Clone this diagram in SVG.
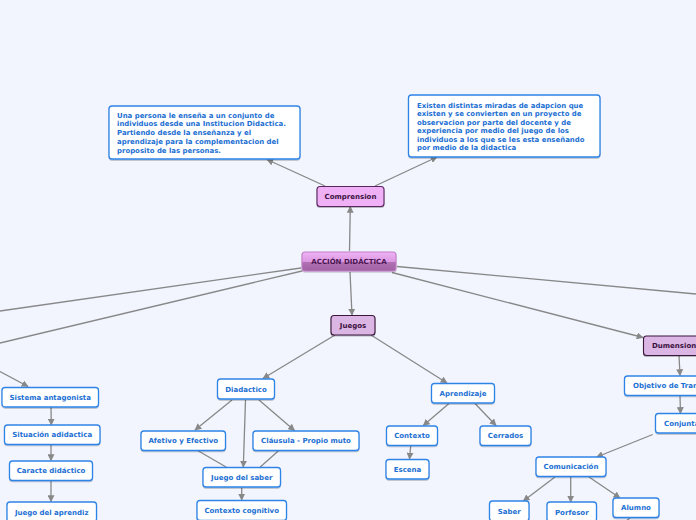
<svg xmlns="http://www.w3.org/2000/svg" width="696" height="520" viewBox="0 0 696 520">
<defs>
<marker id="ah" viewBox="0 0 10 10" refX="9" refY="5" markerWidth="7" markerHeight="7" markerUnits="userSpaceOnUse" orient="auto">
<path d="M0,0 L10,5 L0,10 z" fill="#888"/>
</marker>
<linearGradient id="gc" x1="0" y1="0" x2="0" y2="1">
<stop offset="0" stop-color="#efb4f4"/>
<stop offset="0.5" stop-color="#dc98e2"/>
<stop offset="0.55" stop-color="#b070b2"/>
<stop offset="1" stop-color="#a062a3"/>
</linearGradient>
<filter id="sh" x="-10%" y="-10%" width="120%" height="140%">
<feDropShadow dx="0" dy="1" stdDeviation="0.6" flood-color="#000" flood-opacity="0.25"/>
</filter>
</defs>
<style>
.n rect{fill:#fff;stroke:#2f84e6;stroke-width:1.3;filter:url(#sh)}
.n text{font-family:"DejaVu Sans",Verdana,sans-serif;font-weight:bold;font-size:7px;fill:#1b6fd3;text-anchor:middle}
.t text{text-anchor:start;font-size:6.95px}
.p rect{fill:#dbb5e3;stroke:#3a173d;stroke-width:1.1;filter:url(#sh)}
.p text{font-family:"DejaVu Sans",Verdana,sans-serif;font-weight:bold;font-size:7px;fill:#3a1040;text-anchor:middle}
#comprension rect{fill:#efb0f5;stroke:#5a2660}
#accion rect{fill:url(#gc);stroke:#c27fc8}
#accion text{fill:#4a1650}
.c line{stroke:#888;stroke-width:1.3;fill:none}
.c .a{marker-end:url(#ah)}
</style>
<rect width="696" height="520" fill="#f2f5fe"/>
<g class="c">
<line class="a" x1="325" y1="186" x2="267" y2="159.5"/>
<line class="a" x1="375" y1="186" x2="437" y2="157"/>
<line class="a" x1="349.5" y1="251" x2="350.3" y2="206.5"/>
<line x1="301" y1="268" x2="0" y2="311"/>
<line x1="302" y1="271" x2="0" y2="343"/>
<line x1="397" y1="266.5" x2="696" y2="294"/>
<line class="a" x1="392" y1="272.5" x2="643" y2="337.5"/>
<line class="a" x1="350" y1="272" x2="352" y2="315"/>
<line class="a" x1="335" y1="335" x2="263" y2="378.5"/>
<line class="a" x1="371" y1="335" x2="447" y2="383"/>
<line class="a" x1="0" y1="371.5" x2="28" y2="386.5"/>
<line class="a" x1="51" y1="407" x2="51.3" y2="425"/>
<line class="a" x1="51" y1="444.5" x2="51" y2="460.5"/>
<line class="a" x1="51" y1="480.5" x2="51" y2="501.5"/>
<line class="a" x1="232" y1="400" x2="195" y2="430"/>
<line class="a" x1="245.5" y1="400" x2="243.3" y2="467"/>
<line class="a" x1="259" y1="400" x2="294.5" y2="430.5"/>
<line x1="198" y1="450.7" x2="226.5" y2="467.3"/>
<line x1="278.5" y1="450.7" x2="260" y2="467.3"/>
<line class="a" x1="241.7" y1="487.5" x2="241.7" y2="500"/>
<line class="a" x1="449" y1="403.5" x2="423.3" y2="425.5"/>
<line class="a" x1="475" y1="403.5" x2="496" y2="425.5"/>
<line class="a" x1="410.7" y1="446" x2="409.5" y2="459"/>
<line class="a" x1="679" y1="355.5" x2="680" y2="375.5"/>
<line class="a" x1="680" y1="396" x2="680.5" y2="413.5"/>
<line class="a" x1="652.7" y1="434.5" x2="596.7" y2="457"/>
<line class="a" x1="555" y1="477" x2="523.3" y2="501"/>
<line class="a" x1="570.7" y1="477" x2="570.7" y2="502"/>
<line class="a" x1="589" y1="477" x2="620" y2="498"/>
<line x1="630" y1="518" x2="625" y2="522"/>
</g>
<g id="txt1" class="n t">
<rect x="109" y="106" width="191" height="53" rx="3"/>
<text x="117" y="117.5">Una persona le enseña a un conjunto de</text>
<text x="117" y="126.3">individuos desde una Institucion Didactica.</text>
<text x="117" y="135.1">Partiendo desde la enseñanza y el</text>
<text x="117" y="143.9">aprendizaje para la complementacion del</text>
<text x="117" y="152.7">proposito de las personas.</text>
</g>
<g id="txt2" class="n t">
<rect x="408.5" y="95" width="191.5" height="62" rx="3"/>
<text x="417" y="107.8">Existen distintas miradas de adapcion que</text>
<text x="417" y="116.3">existen y se convierten en un proyecto de</text>
<text x="417" y="124.8">observacion por parte del docente y de</text>
<text x="417" y="133.3">experiencia por medio del juego de los</text>
<text x="417" y="141.8">individuos a los que se les esta enseñando</text>
<text x="417" y="150.3">por medio de la didactica</text>
</g>
<g id="comprension" class="p">
<rect x="317" y="186.5" width="67" height="20" rx="3"/>
<text x="350.5" y="198.9">Comprension</text>
</g>
<g id="accion" class="p">
<rect x="302" y="252" width="94" height="19" rx="3"/>
<text x="349" y="264.4">ACCIÓN DIDÁCTICA</text>
</g>
<g id="juegos" class="p">
<rect x="331" y="315.5" width="44" height="19.5" rx="3"/>
<text x="353" y="327.9">Juegos</text>
</g>
<g id="dumension" class="p">
<rect x="643.5" y="336" width="70" height="19.5" rx="3"/>
<text x="652" y="348.4" style="text-anchor:start">Dumensiona</text>
</g>
<g id="objetivo" class="n">
<rect x="624.5" y="376" width="90" height="19.5" rx="3"/>
<text x="633" y="388.4" style="text-anchor:start">Objetivo de Tran</text>
</g>
<g id="conjunta" class="n">
<rect x="655.5" y="413.5" width="60" height="19.5" rx="3"/>
<text x="664" y="425.9" style="text-anchor:start">Conjunta</text>
</g>
<g id="comunicacion" class="n">
<rect x="536" y="457" width="70" height="19.5" rx="3"/>
<text x="571" y="469.4">Comunicación</text>
</g>
<g id="saber" class="n">
<rect x="489.5" y="501" width="39.5" height="20" rx="3"/>
<text x="509.3" y="513.6">Saber</text>
</g>
<g id="porfesor" class="n">
<rect x="547" y="502" width="49.5" height="20" rx="3"/>
<text x="571.8" y="514.6">Porfesor</text>
</g>
<g id="alumno" class="n">
<rect x="613" y="498" width="46" height="19.5" rx="3"/>
<text x="636" y="510.4">Alumno</text>
</g>
<g id="sistema" class="n">
<rect x="2" y="387.5" width="96.5" height="19.5" rx="3"/>
<text x="50.2" y="399.9">Sistema antagonista</text>
</g>
<g id="situacion" class="n">
<rect x="4.5" y="425" width="95.5" height="19.5" rx="3"/>
<text x="52.2" y="437.4">Situación adidactica</text>
</g>
<g id="caracte" class="n">
<rect x="9.5" y="461" width="83" height="19.5" rx="3"/>
<text x="51" y="473.4">Caracte didáctico</text>
</g>
<g id="juegoaprendiz" class="n">
<rect x="7" y="502" width="89.5" height="20" rx="3"/>
<text x="51.7" y="514.6">Juego del aprendiz</text>
</g>
<g id="diadactico" class="n">
<rect x="217.5" y="379" width="57" height="20" rx="3"/>
<text x="246" y="391.6">Diadactico</text>
</g>
<g id="afetivo" class="n">
<rect x="141" y="431" width="84.5" height="19.5" rx="3"/>
<text x="183.2" y="443.4">Afetivo y Efectivo</text>
</g>
<g id="clausula" class="n">
<rect x="253" y="431" width="106" height="19.5" rx="3"/>
<text x="306" y="443.4">Cláusula - Propio muto</text>
</g>
<g id="juegosaber" class="n">
<rect x="203" y="467.5" width="77.5" height="19.5" rx="3"/>
<text x="241.7" y="479.9">Juego del saber</text>
</g>
<g id="contextocog" class="n">
<rect x="197" y="500.5" width="89.5" height="20" rx="3"/>
<text x="241.7" y="513.1">Contexto cognitivo</text>
</g>
<g id="aprendizaje" class="n">
<rect x="431.5" y="383.5" width="63" height="19.5" rx="3"/>
<text x="463" y="395.9">Aprendizaje</text>
</g>
<g id="contexto" class="n">
<rect x="386.5" y="426" width="51" height="19.5" rx="3"/>
<text x="412" y="438.4">Contexto</text>
</g>
<g id="cerrados" class="n">
<rect x="480" y="426" width="51" height="19.5" rx="3"/>
<text x="505.5" y="438.4">Cerrados</text>
</g>
<g id="escena" class="n">
<rect x="386" y="459.5" width="43" height="19.5" rx="3"/>
<text x="407.5" y="471.9">Escena</text>
</g>
</svg>
